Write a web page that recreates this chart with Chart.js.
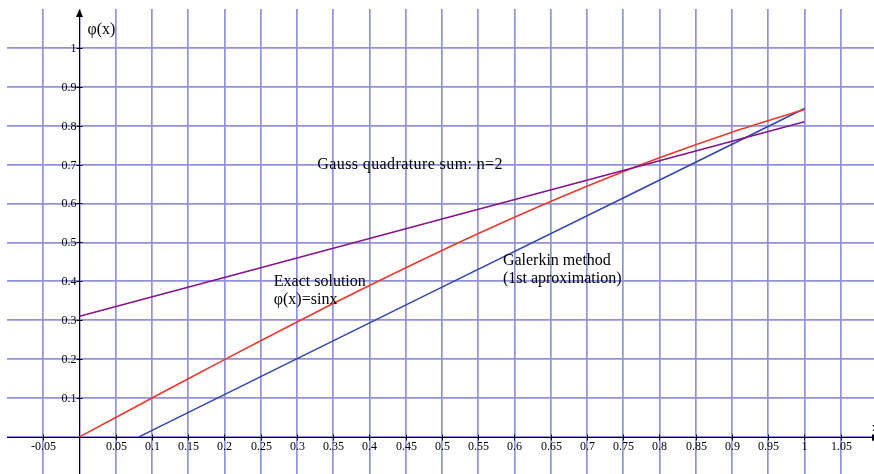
<!DOCTYPE html>
<html><head><meta charset="utf-8">
<script src="https://cdn.jsdelivr.net/npm/chart.js@4/dist/chart.umd.min.js"></script>
<style>html,body{margin:0;padding:0;background:#fff;overflow:hidden}</style>
</head><body>
<canvas id="c" width="874" height="474"></canvas>
<script>
// ---- data ----
const exactX = [0, 0.1, 0.2, 0.3, 0.4, 0.5, 0.6, 0.7, 0.8, 0.9, 1.0];
const exactY = [0, 0.0998, 0.1987, 0.2955, 0.3894, 0.4794, 0.5646, 0.6442, 0.7174, 0.7833, 0.8415];
const gaussX = [0, 0.25, 0.5, 0.75, 1.0];
const gaussY = [0.31, 0.435, 0.56, 0.685, 0.81];
const galerkinX = [0.082, 0.25, 0.5, 0.75, 1.0];
const galerkinY = [0, 0.155, 0.385, 0.614, 0.844];

const xTickValues = [-0.1,-0.05,0,0.05,0.1,0.15,0.2,0.25,0.3,0.35,0.4,0.45,0.5,0.55,0.6,0.65,0.7,0.75,0.8,0.85,0.9,0.95,1,1.05];
const xTickLabels = ['','-0.05','','0.05','0.1','0.15','0.2','0.25','0.3','0.35','0.4','0.45','0.5','0.55','0.6','0.65','0.7','0.75','0.8','0.85','0.9','0.95','1','1.05'];
const yTickValues = [0,0.1,0.2,0.3,0.4,0.5,0.6,0.7,0.8,0.9,1];
const yTickLabels = ['','0.1','0.2','0.3','0.4','0.5','0.6','0.7','0.8','0.9','1'];

const annotations = [
  {x: 0.328, y: 0.699, lines: ['Gauss quadrature sum: n=2'], ls: '0.4px'},
  {x: 0.268, y: 0.398, lines: ['Exact solution', 'φ(x)=sinx'], ls: '0px'},
  {x: 0.584, y: 0.452, lines: ['Galerkin method', '(1st aproximation)'], ls: '0px'},
  {x: 0.011, y: 1.046, lines: ['φ(x)'], ls: '0px'}
];

const GRID = 'rgb(146,146,218)';
const SERIF = '"Liberation Serif", "Times New Roman", serif';

function pts(xs, ys){ return xs.map((x,i)=>({x:x, y:ys[i]})); }

const axesPlugin = {
  id: 'axesPlugin',
  beforeDatasetsDraw(chart){
    const ctx = chart.ctx, xs = chart.scales.x, ys = chart.scales.y, a = chart.chartArea;
    const x0 = Math.round(xs.getPixelForValue(0)) + 0.5;
    const y0 = Math.round(ys.getPixelForValue(0)) + 0.5;
    ctx.save();
    ctx.strokeStyle = '#000'; ctx.fillStyle = '#000'; ctx.lineWidth = 1;
    ctx.beginPath(); ctx.moveTo(a.left, y0); ctx.lineTo(a.right + 10, y0); ctx.stroke();
    ctx.beginPath(); ctx.moveTo(x0, a.bottom); ctx.lineTo(x0, a.top + 2); ctx.stroke();
    ctx.beginPath(); ctx.moveTo(x0, a.top); ctx.lineTo(x0 - 3.5, a.top + 8); ctx.lineTo(x0 + 3.5, a.top + 8); ctx.closePath(); ctx.fill();
    ctx.beginPath(); ctx.moveTo(a.right + 6, y0); ctx.lineTo(a.right - 2, y0 - 3.5); ctx.lineTo(a.right - 2, y0 + 3.5); ctx.closePath(); ctx.fill();
    ctx.font = '12px ' + SERIF;
    ctx.textAlign = 'center'; ctx.textBaseline = 'middle';
    xTickValues.forEach((v,i)=>{
      if (v === 0 || v === -0.1) return;
      const px = Math.round(xs.getPixelForValue(v)) + 0.5;
      ctx.beginPath(); ctx.moveTo(px, y0 - 3); ctx.lineTo(px, y0 + 3); ctx.stroke();
      ctx.fillText(xTickLabels[i], px, y0 + 9);
    });
    ctx.textAlign = 'right';
    yTickValues.forEach((v,i)=>{
      if (v === 0) return;
      const py = Math.round(ys.getPixelForValue(v)) + 0.5;
      ctx.beginPath(); ctx.moveTo(x0 - 3, py); ctx.lineTo(x0 + 3, py); ctx.stroke();
      ctx.fillText(yTickLabels[i], x0 - 3, py + 0.5);
    });
    ctx.textAlign = 'left';
    ctx.fillText('x', a.right - 2, y0 - 10);
    ctx.restore();
  },
  afterDatasetsDraw(chart){
    const ctx = chart.ctx, xs = chart.scales.x, ys = chart.scales.y;
    ctx.save();
    ctx.fillStyle = '#000';
    ctx.font = '16px ' + SERIF;
    ctx.textAlign = 'left'; ctx.textBaseline = 'middle';
    annotations.forEach(an=>{
      ctx.letterSpacing = an.ls;
      const px = xs.getPixelForValue(an.x), py = ys.getPixelForValue(an.y);
      an.lines.forEach((t,k)=> ctx.fillText(t, px, py + k*18));
    });
    ctx.restore();
  }
};

new Chart(document.getElementById('c'), {
  type: 'line',
  data: {
    datasets: [
      {label: 'Gauss quadrature sum: n=2', data: pts(gaussX, gaussY), borderColor: '#85138a', borderWidth: 1.6, pointRadius: 0, tension: 0},
      {label: 'Exact solution', data: pts(exactX, exactY), borderColor: '#ea3a2c', borderWidth: 1.6, pointRadius: 0, tension: 0.3},
      {label: 'Galerkin method', data: pts(galerkinX, galerkinY), borderColor: '#3346ac', borderWidth: 1.6, pointRadius: 0, tension: 0}
    ]
  },
  options: {
    responsive: false,
    animation: false,
    devicePixelRatio: 1,
    layout: {padding: {left: 7, top: 9, right: 0, bottom: 0}},
    plugins: {legend: {display: false}, tooltip: {enabled: false}},
    scales: {
      x: {
        type: 'linear', min: -0.1, max: 1.0959,
        afterBuildTicks: s => { s.ticks = xTickValues.map(v=>({value: v})); },
        ticks: {display: false},
        border: {display: false},
        grid: {drawTicks: false, lineWidth: 1.7, color: c => (c.tick && Math.abs(c.tick.value + 0.1) < 1e-6) ? 'rgba(0,0,0,0)' : GRID}
      },
      y: {
        type: 'linear', min: -0.0954, max: 1.1,
        afterBuildTicks: s => { s.ticks = yTickValues.map(v=>({value: v})); },
        ticks: {display: false},
        border: {display: false},
        grid: {drawTicks: false, lineWidth: 1.7, color: GRID}
      }
    }
  },
  plugins: [axesPlugin]
});
</script>
</body></html>
